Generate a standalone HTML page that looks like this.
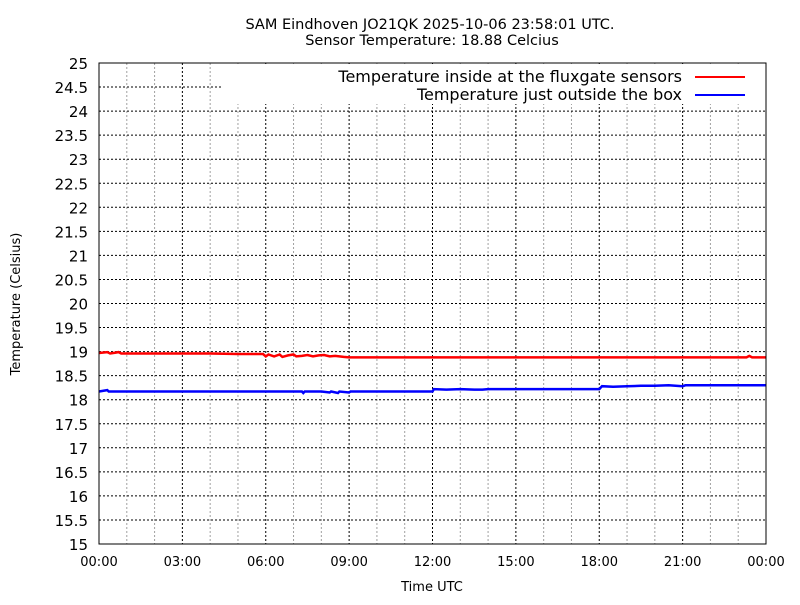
<!DOCTYPE html>
<html><head><meta charset="utf-8"><style>
body{margin:0;background:#fff}
svg text{font-family:"DejaVu Sans","Liberation Sans",sans-serif;font-size:14px;fill:#000}
</style></head><body>
<svg id="c" width="800" height="600" xmlns="http://www.w3.org/2000/svg">
<text x="430" y="29" text-anchor="middle" style="font-size:14.5px">SAM Eindhoven JO21QK 2025-10-06 23:58:01 UTC.</text>
<text x="432" y="45" text-anchor="middle" style="font-size:14.5px">Sensor Temperature: 18.88 Celcius</text>
<text x="432" y="591" text-anchor="middle" style="font-size:13px">Time UTC</text>
<text transform="translate(20,304) rotate(-90)" text-anchor="middle" style="font-size:13px">Temperature (Celsius)</text>
<g id="grid"></g><g id="series"></g><g id="axes"></g>
</svg>
<script>
const xTickLabels=["00:00","03:00","06:00","09:00","12:00","15:00","18:00","21:00","00:00"];
const yTicks=[15,15.5,16,16.5,17,17.5,18,18.5,19,19.5,20,20.5,21,21.5,22,22.5,23,23.5,24,24.5,25];
const redTimes=[0,0.3,0.4,0.6,0.7,0.8,1,2,3,4,5,5.9,6,6.1,6.3,6.5,6.6,6.8,7,7.1,7.3,7.5,7.7,7.9,8.1,8.3,8.5,8.8,9,10,12,15,18,21,23.3,23.4,23.5,24];
const redVals=[18.97,18.99,18.96,18.98,18.99,18.96,18.96,18.96,18.96,18.96,18.95,18.95,18.9,18.94,18.9,18.94,18.89,18.92,18.94,18.9,18.91,18.93,18.9,18.92,18.93,18.9,18.91,18.89,18.88,18.88,18.88,18.88,18.88,18.88,18.88,18.91,18.88,18.88];
const blueTimes=[0,0.3,0.35,0.45,1,3,6,7.3,7.35,7.4,8,8.3,8.35,8.6,8.65,9,9.05,9.1,12,12.05,12.5,13,13.5,13.8,14,15,18,18.1,18.5,19,19.5,20,20.5,21,21.1,21.2,22,24];
const blueVals=[18.17,18.2,18.17,18.17,18.17,18.17,18.17,18.17,18.14,18.17,18.17,18.15,18.17,18.14,18.17,18.15,18.17,18.17,18.17,18.22,18.21,18.22,18.21,18.21,18.22,18.22,18.22,18.28,18.27,18.28,18.29,18.29,18.3,18.28,18.3,18.3,18.3,18.3];
const X0=99,X1=766,Y0=544,Y1=63;
const xs=h=>X0+(X1-X0)*h/24;
function ysc(v){return Y0-(Y0-Y1)*(v-15)/10;}
const NS="http://www.w3.org/2000/svg";
function mk(p,t,a){const e=document.createElementNS(NS,t);for(const k in a)e.setAttribute(k,a[k]);document.getElementById(p).appendChild(e);return e;}
for(let h=1;h<24;h++){if(h%3===0)continue;
 const l=mk('grid','line',{x1:xs(h),x2:xs(h),y1:Y1,y2:Y0,stroke:'#a0a0a0','stroke-dasharray':'2,2'});
 
 }
xTickLabels.forEach((t,i)=>{const x=xs(i*3);
 if(i>0&&i<8){const l=mk('grid','line',{x1:x,x2:x,y1:Y1,y2:Y0,stroke:'#000','stroke-dasharray':'2,2'});
 
 }
 const tx=mk('axes','text',{x:x,y:566,'text-anchor':'middle',style:'font-size:13px'});tx.textContent=t;
 
 });
yTicks.forEach(v=>{const y=ysc(v);
 if(v>15&&v<25){const l=mk('grid','line',{x1:X0,x2:X1,y1:y,y2:y,stroke:'#000','stroke-dasharray':'2,2'});
 
 }
 const tx=mk('axes','text',{x:88,y:y+6,'text-anchor':'end',style:'font-size:15px'});tx.textContent=String(v);
 
 });
const cover=mk('grid','rect',{x:222,y:64,width:543,height:40,fill:'#fff'});


function series(t,v,col,name){const d=t.map((h,i)=>(i?'L':'M')+xs(h).toFixed(1)+','+ysc(v[i]).toFixed(1)).join('');
 const p=mk('series','path',{d:d,fill:'none',stroke:col,'stroke-width':2.5});
 
 }
series(redTimes,redVals,'#f00','series-inside-temperature');
series(blueTimes,blueVals,'#00f','series-outside-temperature');
const fr=mk('axes','rect',{x:X0,y:Y1,width:X1-X0,height:Y0-Y1,fill:'none',stroke:'#000'});


[['Temperature inside at the fluxgate sensors','#f00',77],['Temperature just outside the box','#00f',95]].forEach(([t,c,y],i)=>{
 const tx=mk('axes','text',{x:682,y:y+5,'text-anchor':'end',style:'font-size:16px'});tx.textContent=t;
 
 
 const l=mk('axes','line',{x1:695,x2:745,y1:y,y2:y,stroke:c,'stroke-width':2});
 
 });
</script>
</body></html>
